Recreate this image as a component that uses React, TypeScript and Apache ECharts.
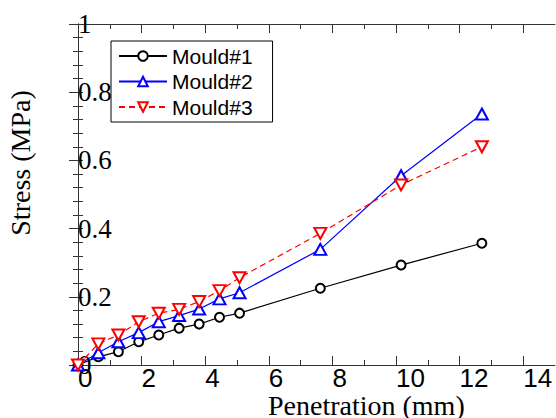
import React, { useEffect, useRef } from "react";
import * as echarts from "echarts";

const penetration = [0, 0.64, 1.27, 1.91, 2.54, 3.18, 3.81, 4.45, 5.08, 7.62, 10.16, 12.7];
const mould1 = [0, 0.024, 0.039, 0.068, 0.088, 0.108, 0.12, 0.14, 0.152, 0.225, 0.293, 0.357];
const mould2 = [0, 0.036, 0.068, 0.095, 0.127, 0.145, 0.164, 0.194, 0.212, 0.339, 0.555, 0.736];
const mould3 = [0, 0.062, 0.088, 0.127, 0.152, 0.163, 0.186, 0.218, 0.256, 0.386, 0.528, 0.64];
const seriesNames = ["Mould#1", "Mould#2", "Mould#3"];
const xMajorTicks = [0, 2, 4, 6, 8, 10, 12, 14];
const xMinorTicks = [1, 3, 5, 7, 9, 11, 13];
const xAxisName = "Penetration (mm)";
const yAxisName = "Stress (MPa)";

const AXIS_COLOR = "#333";

export default function App() {
  const ref = useRef<HTMLDivElement>(null);
  useEffect(() => {
    document.body.style.margin = "0";
    if (!ref.current) return;
    const chart = echarts.init(ref.current, undefined, { renderer: "svg" });
    const pair = (ys: number[]) => penetration.map((x, i) => [x, ys[i]]);
    const xBase = {
      type: "value",
      min: 0,
      max: 15,
      interval: 2,
      splitLine: { show: false },
      axisLabel: { show: false },
    };
    const option: any = {
      animation: false,
      backgroundColor: "#fff",
      grid: { left: 78, right: 1, top: 24, bottom: 53, containLabel: false },
      xAxis: [
        {
          ...xBase,
          position: "bottom",
          axisLine: { show: true, lineStyle: { color: AXIS_COLOR, width: 1 } },
          axisTick: { show: true, inside: true, length: 9, customValues: xMajorTicks, lineStyle: { color: AXIS_COLOR } },
          axisLabel: {
            show: true,
            customValues: xMajorTicks,
            align: "left",
            verticalAlign: "top",
            margin: 0,
            fontFamily: "Liberation Sans",
            fontSize: 26,
            lineHeight: 26,
            color: "#000",
          },
        },
        {
          ...xBase,
          position: "bottom",
          axisLine: { show: false },
          axisTick: { show: true, inside: true, length: 5, customValues: xMinorTicks, lineStyle: { color: AXIS_COLOR } },
        },
        {
          ...xBase,
          position: "top",
          axisLine: { show: true, lineStyle: { color: AXIS_COLOR, width: 1 } },
          axisTick: { show: true, inside: true, length: 9, customValues: xMajorTicks, lineStyle: { color: AXIS_COLOR } },
        },
        {
          ...xBase,
          position: "top",
          axisLine: { show: false },
          axisTick: { show: true, inside: true, length: 5, customValues: xMinorTicks, lineStyle: { color: AXIS_COLOR } },
        },
      ],
      yAxis: [
        {
          type: "value",
          position: "left",
          min: 0,
          max: 1,
          interval: 0.2,
          splitLine: { show: false },
          axisLine: { show: true, lineStyle: { color: AXIS_COLOR, width: 1 } },
          axisTick: { show: true, inside: true, length: 5, lineStyle: { color: AXIS_COLOR } },
          minorTick: { show: true, splitNumber: 5, length: 5, lineStyle: { color: AXIS_COLOR } },
          axisLabel: {
            show: true,
            inside: true,
            margin: 0,
            align: "left",
            fontFamily: "Liberation Serif",
            fontSize: 27,
            color: "#000",
            formatter: (v: number) => String(Math.round(v * 10) / 10),
          },
        },
        {
          type: "value",
          position: "right",
          min: 0,
          max: 1,
          interval: 0.2,
          splitLine: { show: false },
          axisLine: { show: true, lineStyle: { color: AXIS_COLOR, width: 1 } },
          axisTick: { show: true, inside: true, length: 9, lineStyle: { color: AXIS_COLOR } },
          minorTick: { show: true, splitNumber: 5, length: 5, lineStyle: { color: AXIS_COLOR } },
          axisLabel: { show: false },
        },
      ],
      legend: {
        show: true,
        left: 111,
        top: 41,
        orient: "vertical",
        borderColor: "#000",
        borderWidth: 1,
        borderRadius: 0,
        backgroundColor: "#fff",
        padding: [4, 20, 4, 7],
        itemWidth: 48,
        itemHeight: 12,
        itemGap: 3.5,
        textStyle: { fontFamily: "Liberation Sans", fontSize: 21, lineHeight: 22, color: "#000" },
        data: seriesNames,
      },
      series: [
        {
          name: seriesNames[0],
          type: "line",
          data: pair(mould1),
          symbol: "emptyCircle",
          symbolSize: 9,
          color: "#000",
          lineStyle: { color: "#000", width: 1.2 },
          itemStyle: { color: "#000", borderWidth: 1.2 },
        },
        {
          name: seriesNames[1],
          type: "line",
          data: pair(mould2),
          symbol: "emptyTriangle",
          symbolSize: [12, 11],
          color: "#0000ff",
          lineStyle: { color: "#0000ff", width: 1.2 },
          itemStyle: { color: "#0000ff", borderWidth: 1.2 },
        },
        {
          name: seriesNames[2],
          type: "line",
          data: pair(mould3),
          symbol: "emptyTriangle",
          symbolRotate: 180,
          symbolSize: [12, 11],
          color: "#ff0000",
          lineStyle: { color: "#ff0000", width: 1.2, type: [6, 4] },
          itemStyle: { color: "#ff0000", borderWidth: 1.2 },
        },
      ],
      graphic: [
        {
          type: "text",
          x: 268,
          y: 405,
          style: {
            text: xAxisName,
            fontFamily: "Liberation Serif",
            fontSize: 28,
            lineHeight: 24,
            fill: "#000",
            align: "left",
            verticalAlign: "middle",
          },
        },
        {
          type: "text",
          x: 20,
          y: 163,
          rotation: Math.PI / 2,
          style: {
            text: yAxisName,
            fontFamily: "Liberation Serif",
            fontSize: 28,
            fill: "#000",
            align: "center",
            verticalAlign: "middle",
          },
        },
      ],
    };
    chart.setOption(option);
    return () => chart.dispose();
  }, []);
  return <div ref={ref} style={{ width: 556, height: 418 }} />;
}
